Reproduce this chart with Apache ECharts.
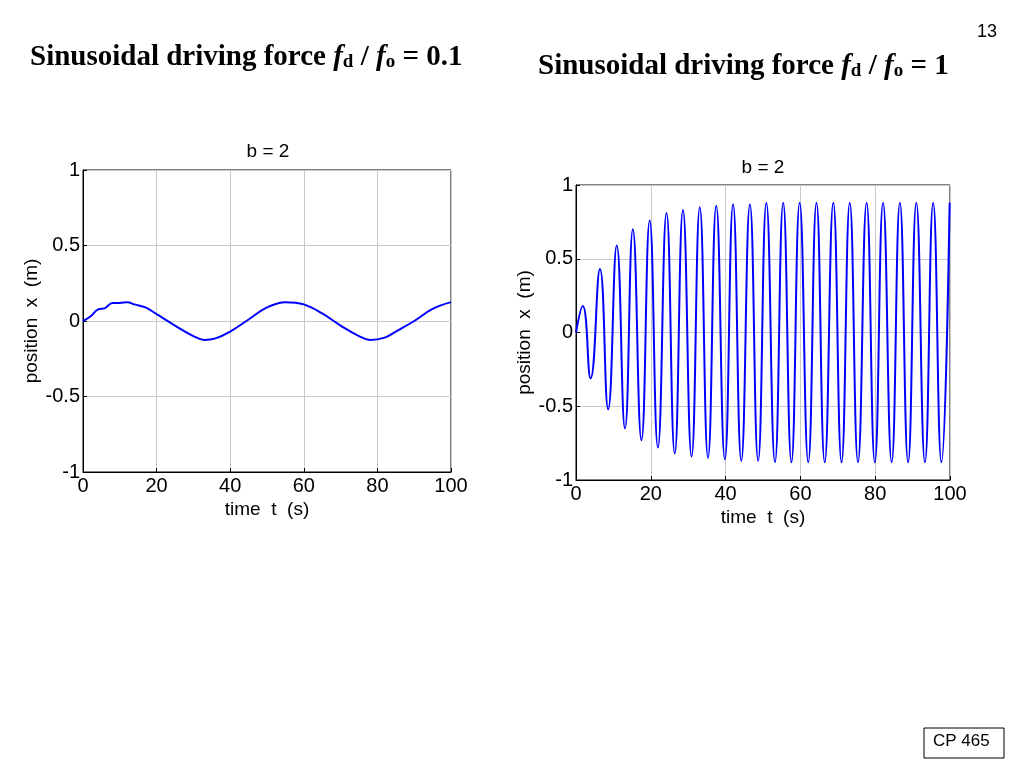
<!DOCTYPE html>
<html><head><meta charset="utf-8">
<script src="https://cdn.jsdelivr.net/npm/echarts@6/dist/echarts.min.js"></script>
<style>html,body{margin:0;padding:0;background:#fff}#c{width:1024px;height:768px}</style>
</head><body><div id="c"></div>
<script>
const xTicks = [0, 20, 40, 60, 80, 100];
const yTicks = [-1, -0.5, 0, 0.5, 1];
// Left panel: fd/fo = 0.1
const leftT = [0,2,4,6,8,10,12,14,17,20,25,30,33,36,40,45,50,55,60,65,70,75,78,82,85,90,95,100];
const leftX = [0,0.03,0.075,0.085,0.12,0.12,0.125,0.11,0.09,0.045,-0.03,-0.1,-0.125,-0.115,-0.07,0.01,0.09,0.125,0.11,0.05,-0.03,-0.1,-0.125,-0.11,-0.07,0.0,0.08,0.125];
// Right panel: fd/fo = 1 (start point then successive peaks / troughs)
const rightT = [0,1.8,3.9,6.4,8.6,10.9,13.1,15.2,17.5,19.7,21.9,24.2,26.4,28.6,30.9,33.1,35.3,37.5,39.8,42.0,44.2,46.5,48.7,50.9,53.2,55.4,57.6,59.8,62.1,64.3,66.5,68.8,71.0,73.2,75.4,77.7,79.9,82.1,84.4,86.6,88.8,91.0,93.3,95.5,97.7,99.9];
const rightX = [0,0.18,-0.31,0.43,-0.52,0.59,-0.65,0.70,-0.73,0.76,-0.78,0.81,-0.82,0.83,-0.84,0.85,-0.85,0.86,-0.86,0.87,-0.87,0.87,-0.87,0.88,-0.88,0.88,-0.88,0.88,-0.88,0.88,-0.88,0.88,-0.88,0.88,-0.88,0.88,-0.88,0.88,-0.88,0.88,-0.88,0.88,-0.88,0.88,-0.88,0.88];

const F = 'Liberation Sans, Arial, sans-serif';
function xAxis(gi){
  return {type:'value', gridIndex:gi, min:0, max:100, interval:20,
    name:'time  t  (s)', nameLocation:'middle', nameGap:28,
    nameTextStyle:{color:'#000', fontSize:19, fontFamily:F},
    axisLine:{show:true, onZero:false, lineStyle:{color:'#000'}}, axisTick:{inside:true, length:4, lineStyle:{color:'#000'}},
    axisLabel:{color:'#000', fontSize:20, fontFamily:F, margin:4},
    splitLine:{show:true, lineStyle:{color:'#c8c8c8'}}};
}
function yAxis(gi){
  return {type:'value', gridIndex:gi, min:-1, max:1, interval:0.5,
    name:'position  x  (m)', nameLocation:'middle', nameGap:38,
    nameTextStyle:{color:'#000', fontSize:19, fontFamily:F},
    axisLine:{show:true, onZero:false, lineStyle:{color:'#000'}}, axisTick:{inside:true, length:4, lineStyle:{color:'#000'}},
    axisLabel:{color:'#000', fontSize:20, fontFamily:F, margin:3},
    splitLine:{show:true, lineStyle:{color:'#c8c8c8'}}};
}
const chart = echarts.init(document.getElementById('c'));
const SF = 'Liberation Serif, Times New Roman, serif';
const rich = {
  a:{fontFamily:SF, fontWeight:'bold', fontSize:29, color:'#000'},
  i:{fontFamily:SF, fontWeight:'bold', fontStyle:'italic', fontSize:29, color:'#000'},
  s:{fontFamily:SF, fontWeight:'bold', fontSize:19, color:'#000', verticalAlign:'bottom', padding:[10,0,0,0]}
};
chart.setOption({
  animation:false,
  title:[
    {text:'b = 2', left:263, top:137, textAlign:'center', textStyle:{fontSize:19, fontWeight:'normal', fontFamily:F, color:'#000'}},
    {text:'b = 2', left:758, top:153, textAlign:'center', textStyle:{fontSize:19, fontWeight:'normal', fontFamily:F, color:'#000'}}
  ],
  grid:[
    {left:83, top:170, width:368, height:302, show:true, borderColor:'#000', borderWidth:1},
    {left:576, top:185, width:374, height:295, show:true, borderColor:'#000', borderWidth:1}
  ],
  xAxis:[xAxis(0), xAxis(1)],
  yAxis:[yAxis(0), yAxis(1)],
  series:[
    {type:'line', xAxisIndex:0, yAxisIndex:0, data:leftT.map((t,i)=>[t,leftX[i]]), smooth:0.4, symbol:'none', lineStyle:{color:'#0000ff', width:2}},
    {type:'line', xAxisIndex:1, yAxisIndex:1, data:rightT.map((t,i)=>[t,rightX[i]]), smooth:0.5, symbol:'none', lineStyle:{color:'#0000ff', width:2}}
  ],
  graphic:[
    {type:'text', left:30, top:43, style:{text:'{a|Sinusoidal driving force }{i|f}{s|d}{a| / }{i|f}{s|o}{a| = 0.1}', rich:rich}},
    {type:'text', left:538, top:52, style:{text:'{a|Sinusoidal driving force }{i|f}{s|d}{a| / }{i|f}{s|o}{a| = 1}', rich:rich}},
    {type:'text', left:977, top:23, style:{text:'13', font:'18px Liberation Sans, Arial', fill:'#000'}},
    {type:'rect', shape:{x:924, y:728, width:80, height:30}, style:{fill:'#fff', stroke:'#000', lineWidth:1}},
    {type:'text', left:933, top:733, style:{text:'CP 465', font:'17px Liberation Sans, Arial', fill:'#000'}}
  ]
});
</script></body></html>
